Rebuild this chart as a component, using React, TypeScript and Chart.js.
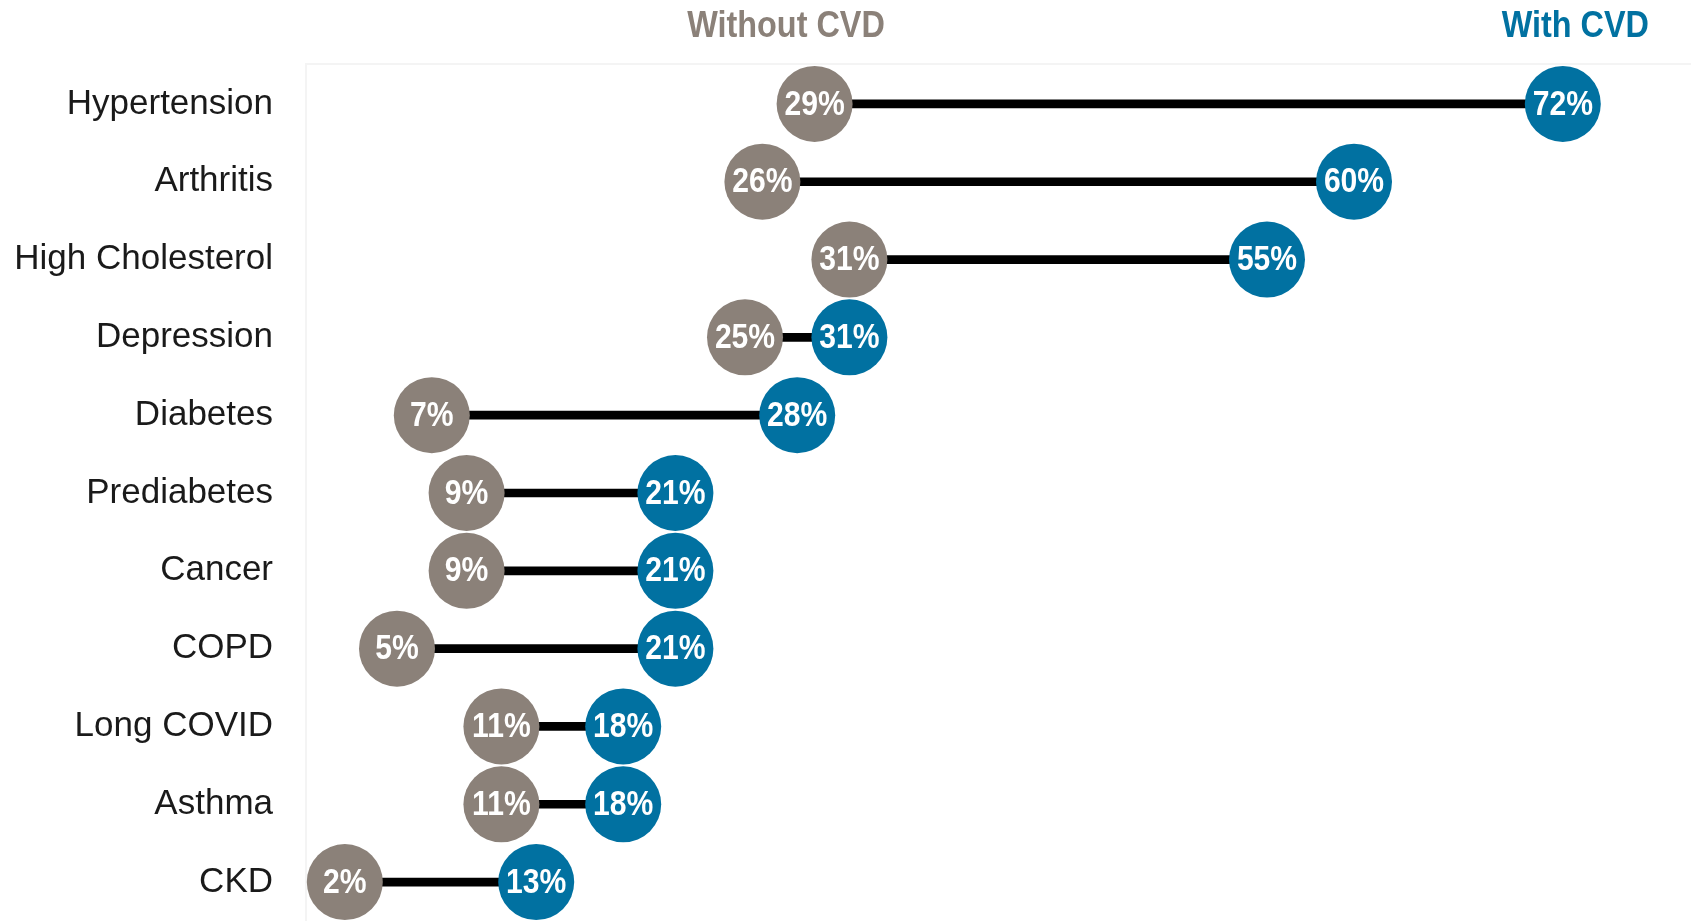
import React, { useEffect, useRef } from "react";
import { Chart, registerables } from "chart.js";

Chart.register(...registerables);

// Conditions, top to bottom
const categories = [
  "Hypertension",
  "Arthritis",
  "High Cholesterol",
  "Depression",
  "Diabetes",
  "Prediabetes",
  "Cancer",
  "COPD",
  "Long COVID",
  "Asthma",
  "CKD",
];

// Prevalence (%) among adults without / with cardiovascular disease
const withoutCvd = [29, 26, 31, 25, 7, 9, 9, 5, 11, 11, 2];
const withCvd = [72, 60, 55, 31, 28, 21, 21, 21, 18, 18, 13];

const seriesNames = ["Without CVD", "With CVD"];

const GREY = "#8b8179";
const BLUE = "#0171a1";
const SANS = '"Liberation Sans", Arial, sans-serif';

// Draws bold text squeezed horizontally to get a condensed look
function drawCondensed(
  ctx: CanvasRenderingContext2D,
  text: string,
  x: number,
  y: number,
  align: CanvasTextAlign,
  squeeze: number
) {
  ctx.save();
  ctx.translate(x, y);
  ctx.scale(squeeze, 1);
  ctx.textAlign = align;
  ctx.fillText(text, 0, 0);
  ctx.restore();
}

// Very faint frame along the top and left of the plot area
const framePlugin = {
  id: "frame",
  beforeDatasetsDraw(chart: any) {
    const { ctx, chartArea } = chart;
    ctx.save();
    ctx.strokeStyle = "#f4f4f4";
    ctx.lineWidth = 2;
    ctx.beginPath();
    ctx.moveTo(chartArea.left - 4, chartArea.bottom);
    ctx.lineTo(chartArea.left - 4, chartArea.top - 1);
    ctx.lineTo(chartArea.right, chartArea.top - 1);
    ctx.stroke();
    ctx.restore();
  },
};

// Percent labels printed inside each dot
const valueLabelPlugin = {
  id: "valueLabels",
  afterDatasetsDraw(chart: any) {
    const { ctx } = chart;
    ctx.save();
    ctx.font = `bold 35px ${SANS}`;
    ctx.fillStyle = "#ffffff";
    ctx.textBaseline = "middle";
    chart.data.datasets.forEach((ds: any, di: number) => {
      if (ds.type !== "line") return;
      const meta = chart.getDatasetMeta(di);
      meta.data.forEach((pt: any, i: number) => {
        const v = ds.data[i].x;
        drawCondensed(ctx, `${v}%`, pt.x, pt.y + 1, "center", 0.86);
      });
    });
    ctx.restore();
  },
};

// Series headers above the plot
const headerPlugin = {
  id: "headers",
  afterDraw(chart: any) {
    const { ctx } = chart;
    ctx.save();
    ctx.font = `bold 36px ${SANS}`;
    ctx.textBaseline = "alphabetic";
    ctx.fillStyle = GREY;
    drawCondensed(ctx, seriesNames[0], 786, 37, "center", 0.9);
    ctx.fillStyle = BLUE;
    drawCondensed(ctx, seriesNames[1], 1649, 37, "right", 0.9);
    ctx.restore();
  },
};

function dotDataset(label: string, values: number[], color: string, order: number) {
  return {
    type: "line" as const,
    label,
    data: values.map((v, i) => ({ x: v, y: categories[i] })),
    indexAxis: "y" as const,
    showLine: false,
    pointRadius: 38,
    pointHoverRadius: 38,
    pointBorderWidth: 0,
    pointBackgroundColor: color,
    borderColor: color,
    backgroundColor: color,
    clip: false as const,
    order,
  };
}

export default function App() {
  const canvasRef = useRef<HTMLCanvasElement>(null);

  useEffect(() => {
    document.body.style.margin = "0";
    document.body.style.overflow = "hidden";
    const canvas = canvasRef.current;
    if (!canvas) return;

    const chart = new Chart(canvas, {
      type: "bar",
      data: {
        labels: categories,
        datasets: [
          {
            type: "bar",
            label: "gap",
            data: categories.map((_, i) => [withoutCvd[i], withCvd[i]]) as any,
            backgroundColor: "#000000",
            barThickness: 8,
            borderWidth: 0,
            order: 3,
          } as any,
          dotDataset(seriesNames[0], withoutCvd, GREY, 2) as any,
          dotDataset(seriesNames[1], withCvd, BLUE, 1) as any,
        ],
      },
      options: {
        indexAxis: "y",
        responsive: false,
        animation: false,
        devicePixelRatio: 1,
        events: [],
        layout: { autoPadding: false, padding: { top: 65, right: 0, bottom: 0, left: 0 } },
        plugins: {
          legend: { display: false },
          tooltip: { enabled: false },
          title: { display: false },
        },
        scales: {
          x: { type: "linear", min: 0, max: 80, display: false },
          y: {
            type: "category",
            offset: true,
            grid: { display: false, drawTicks: false },
            border: { display: false },
            ticks: {
              autoSkip: false,
              padding: 37,
              color: "#1a1a1a",
              font: { family: SANS, size: 35 },
            },
            afterFit(scale: any) {
              // fixed label column; no extra vertical room for the tick text
              scale.width = 310;
              scale.paddingTop = 0;
              scale.paddingBottom = 0;
            },
          },
        },
      },
      plugins: [framePlugin, valueLabelPlugin, headerPlugin],
    });

    return () => chart.destroy();
  }, []);

  return (
    <div style={{ width: 1691, height: 921, overflow: "hidden", background: "#ffffff" }}>
      <canvas
        ref={canvasRef}
        width={1702}
        height={921}
        style={{ display: "block", width: 1702, height: 921 }}
      />
    </div>
  );
}
